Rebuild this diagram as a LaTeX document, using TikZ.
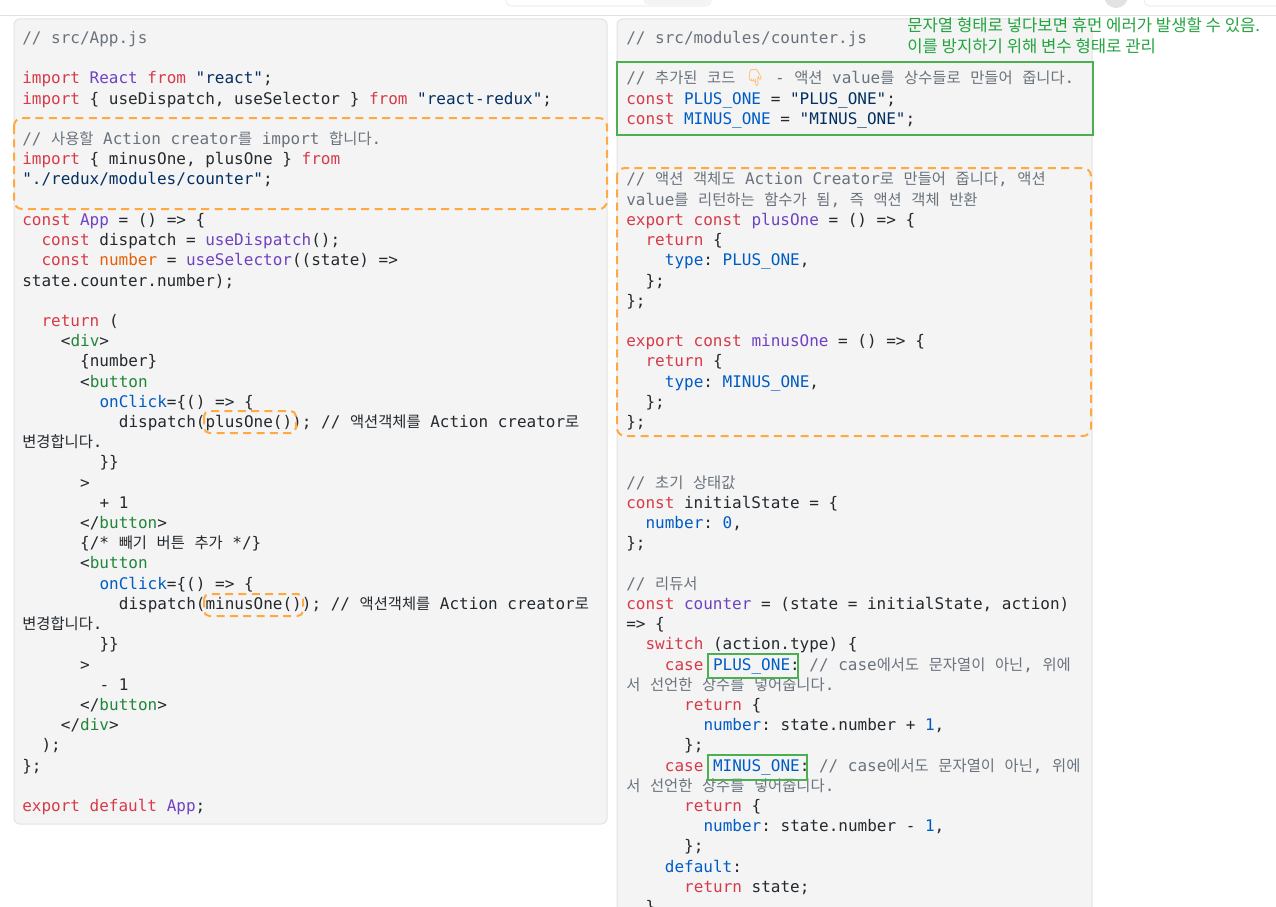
\documentclass[tikz,border=0pt]{standalone}
\usepackage{fontspec}
\setmonofont{DejaVu Sans Mono}
\newfontfamily\krfont[Scale=0.96]{Noto Sans CJK KR}
\newfontfamily\notefont{Noto Sans CJK KR}
\newfontfamily\emojifont{Noto Emoji}
\usepackage{tikz}
\usetikzlibrary{positioning}

\definecolor{panelbg}{HTML}{F4F4F4}
\definecolor{panelline}{HTML}{E2E2E2}
\definecolor{codeblack}{HTML}{24292E}
\definecolor{kwred}{HTML}{D73A49}
\definecolor{fnpurple}{HTML}{6F42C1}
\definecolor{strnavy}{HTML}{032F62}
\definecolor{cblue}{HTML}{005CC5}
\definecolor{taggreen}{HTML}{22863A}
\definecolor{varorange}{HTML}{E36209}
\definecolor{cmgray}{HTML}{6A737D}
\definecolor{markorange}{HTML}{FFA940}
\definecolor{markgreen}{HTML}{4CAF50}
\definecolor{notegreen}{HTML}{23A43F}

\newcommand{\ckw}[1]{\textcolor{kwred}{#1}}
\newcommand{\cfn}[1]{\textcolor{fnpurple}{#1}}
\newcommand{\cstr}[1]{\textcolor{strnavy}{#1}}
\newcommand{\cbl}[1]{\textcolor{cblue}{#1}}
\newcommand{\ctag}[1]{\textcolor{taggreen}{#1}}
\newcommand{\cvar}[1]{\textcolor{varorange}{#1}}
\newcommand{\ccm}[1]{\textcolor{cmgray}{#1}}
\newcommand{\hg}[1]{{\krfont #1}}
\newcommand{\emo}[1]{{\emojifont\color{markorange}#1}}
% one code line: name, left x, indent, row, text
\newcommand{\codeln}[5]{\node[code] (#1) at ({#2+9.66*#3},{43.5+20.21*#4}) {#5};}

\begin{document}
\begin{tikzpicture}[x=0.75pt,y=-0.75pt,
  code/.style={anchor=base west,inner sep=0,text=codeblack,font=\ttfamily\fontsize{12}{14}\selectfont},
  panel/.style={fill=panelbg,draw=panelline,line width=0.75pt,rounded corners=4.5pt},
  orangemark/.style={draw=markorange,line width=1.5pt,dash pattern=on 6pt off 4pt},
  greenmark/.style={draw=markgreen,line width=1.5pt},
  note/.style={anchor=base west,inner sep=0,text=notegreen,font=\notefont\fontsize{12.5}{15}\selectfont}]

  \useasboundingbox (0,0) rectangle (1276,906);

  % top strip of the page
  \draw[panelline] (0,15.5) -- (1276,15.5);
  \draw[panelline,rounded corners=4pt] (506,-10) rectangle (711,6);
  \fill[panelbg,rounded corners=4pt] (643,-9) rectangle (710,5);
  \fill[panelline] (1116,-4) circle (12);
  \draw[panelline,rounded corners=4pt] (1144,-10) rectangle (1290,6);

  % the two code panels
  \draw[panel] (14,19) rectangle (607,824);
  \draw[panel] (617,19) rectangle (1092,940);

  % src/App.js
  \codeln{a0}{22}{0}{0}{\ccm{// src/App.js}}
  \codeln{a2}{22}{0}{2}{\ckw{import} \cfn{React} \ckw{from} \cstr{"react"};}
  \codeln{a3}{22}{0}{3}{\ckw{import} \{ useDispatch, useSelector \} \ckw{from} \cstr{"react-redux"};}
  \codeln{a5}{22}{0}{5}{\ccm{// \hg{사용할} Action creator\hg{를} import \hg{합니다}.}}
  \codeln{a6}{22}{0}{6}{\ckw{import} \{ minusOne, plusOne \} \ckw{from}}
  \codeln{a7}{22}{0}{7}{\cstr{"./redux/modules/counter"};}
  \codeln{a9}{22}{0}{9}{\ckw{const} \cfn{App} = () => \{}
  \codeln{a10}{22}{2}{10}{\ckw{const} dispatch = \cfn{useDispatch}();}
  \codeln{a11}{22}{2}{11}{\ckw{const} \cvar{number} = \cfn{useSelector}((state) =>}
  \codeln{a12}{22}{0}{12}{state.counter.number);}
  \codeln{a14}{22}{2}{14}{\ckw{return} (}
  \codeln{a15}{22}{4}{15}{<\ctag{div}>}
  \codeln{a16}{22}{6}{16}{\{number\}}
  \codeln{a17}{22}{6}{17}{<\ctag{button}}
  \codeln{a18}{22}{8}{18}{\cbl{onClick}=\{() => \{}
  \codeln{a19}{22}{10}{19}{dispatch(plusOne()); // \hg{액션객체를} Action creator\hg{로}}
  \codeln{a20}{22}{0}{20}{\hg{변경합니다}.}
  \codeln{a21}{22}{8}{21}{\}\}}
  \codeln{a22}{22}{6}{22}{>}
  \codeln{a23}{22}{8}{23}{+ 1}
  \codeln{a24}{22}{6}{24}{</\ctag{button}>}
  \codeln{a25}{22}{6}{25}{\{/* \hg{빼기} \hg{버튼} \hg{추가} */\}}
  \codeln{a26}{22}{6}{26}{<\ctag{button}}
  \codeln{a27}{22}{8}{27}{\cbl{onClick}=\{() => \{}
  \codeln{a28}{22}{10}{28}{dispatch(minusOne()); // \hg{액션객체를} Action creator\hg{로}}
  \codeln{a29}{22}{0}{29}{\hg{변경합니다}.}
  \codeln{a30}{22}{8}{30}{\}\}}
  \codeln{a31}{22}{6}{31}{>}
  \codeln{a32}{22}{8}{32}{- 1}
  \codeln{a33}{22}{6}{33}{</\ctag{button}>}
  \codeln{a34}{22}{4}{34}{</\ctag{div}>}
  \codeln{a35}{22}{2}{35}{);}
  \codeln{a36}{22}{0}{36}{\};}
  \codeln{a38}{22}{0}{38}{\ckw{export} \ckw{default} \cfn{App};}

  % src/modules/counter.js
  \codeln{b0}{626}{0}{0}{\ccm{// src/modules/counter.js}}
  \codeln{b2}{626}{0}{2}{\ccm{// \hg{추가된} \hg{코드} \emo{👇} - \hg{액션} value\hg{를} \hg{상수들로} \hg{만들어} \hg{줍니다}.}}
  \codeln{b3}{626}{0}{3}{\ckw{const} \cbl{PLUS\_ONE} = \cstr{"PLUS\_ONE"};}
  \codeln{b4}{626}{0}{4}{\ckw{const} \cbl{MINUS\_ONE} = \cstr{"MINUS\_ONE"};}
  \codeln{b7}{626}{0}{7}{\ccm{// \hg{액션} \hg{객체도} Action Creator\hg{로} \hg{만들어} \hg{줍니다}, \hg{액션}}}
  \codeln{b8}{626}{0}{8}{\ccm{value\hg{를} \hg{리턴하는} \hg{함수가} \hg{됨}, \hg{즉} \hg{액션} \hg{객체} \hg{반환}}}
  \codeln{b9}{626}{0}{9}{\ckw{export} \ckw{const} \cfn{plusOne} = () => \{}
  \codeln{b10}{626}{2}{10}{\ckw{return} \{}
  \codeln{b11}{626}{4}{11}{\cbl{type}: \cbl{PLUS\_ONE},}
  \codeln{b12}{626}{2}{12}{\};}
  \codeln{b13}{626}{0}{13}{\};}
  \codeln{b15}{626}{0}{15}{\ckw{export} \ckw{const} \cfn{minusOne} = () => \{}
  \codeln{b16}{626}{2}{16}{\ckw{return} \{}
  \codeln{b17}{626}{4}{17}{\cbl{type}: \cbl{MINUS\_ONE},}
  \codeln{b18}{626}{2}{18}{\};}
  \codeln{b19}{626}{0}{19}{\};}
  \codeln{b22}{626}{0}{22}{\ccm{// \hg{초기} \hg{상태값}}}
  \codeln{b23}{626}{0}{23}{\ckw{const} initialState = \{}
  \codeln{b24}{626}{2}{24}{\cbl{number}: \cbl{0},}
  \codeln{b25}{626}{0}{25}{\};}
  \codeln{b27}{626}{0}{27}{\ccm{// \hg{리듀서}}}
  \codeln{b28}{626}{0}{28}{\ckw{const} \cfn{counter} = (state = initialState, action)}
  \codeln{b29}{626}{0}{29}{=> \{}
  \codeln{b30}{626}{2}{30}{\ckw{switch} (action.type) \{}
  \codeln{b31}{626}{4}{31}{\ckw{case} \cbl{PLUS\_ONE}: \ccm{// case\hg{에서도} \hg{문자열이} \hg{아닌}, \hg{위에}}}
  \codeln{b32}{626}{0}{32}{\ccm{\hg{서} \hg{선언한} \hg{상수를} \hg{넣어줍니다}.}}
  \codeln{b33}{626}{6}{33}{\ckw{return} \{}
  \codeln{b34}{626}{8}{34}{\cbl{number}: state.number + \cbl{1},}
  \codeln{b35}{626}{6}{35}{\};}
  \codeln{b36}{626}{4}{36}{\ckw{case} \cbl{MINUS\_ONE}: \ccm{// case\hg{에서도} \hg{문자열이} \hg{아닌}, \hg{위에}}}
  \codeln{b37}{626}{0}{37}{\ccm{\hg{서} \hg{선언한} \hg{상수를} \hg{넣어줍니다}.}}
  \codeln{b38}{626}{6}{38}{\ckw{return} \{}
  \codeln{b39}{626}{8}{39}{\cbl{number}: state.number - \cbl{1},}
  \codeln{b40}{626}{6}{40}{\};}
  \codeln{b41}{626}{4}{41}{\cbl{default}:}
  \codeln{b42}{626}{6}{42}{\ckw{return} state;}
  \codeln{b43}{626}{2}{43}{\}}

  % highlight marks
  \draw[orangemark,rounded corners=6pt] (14,118) rectangle (607,209);
  \draw[orangemark,rounded corners=4pt] (204,411) rectangle (296,433);
  \draw[orangemark,rounded corners=4pt] (204,594) rectangle (303,616);
  \draw[orangemark,rounded corners=6pt] (617,168) rectangle (1091,436);
  \draw[greenmark] (617,62) rectangle (1093,135);
  \draw[greenmark] (708,654) rectangle (798,678);
  \draw[greenmark] (708,755) rectangle (807,780);

  % note
  \node[note] (note1) at (907,32) {문자열 형태로 넣다보면 휴먼 에러가 발생할 수 있음.};
  \node[note] (note2) at (907,53) {이를 방지하기 위해 변수 형태로 관리};
\end{tikzpicture}
\end{document}
